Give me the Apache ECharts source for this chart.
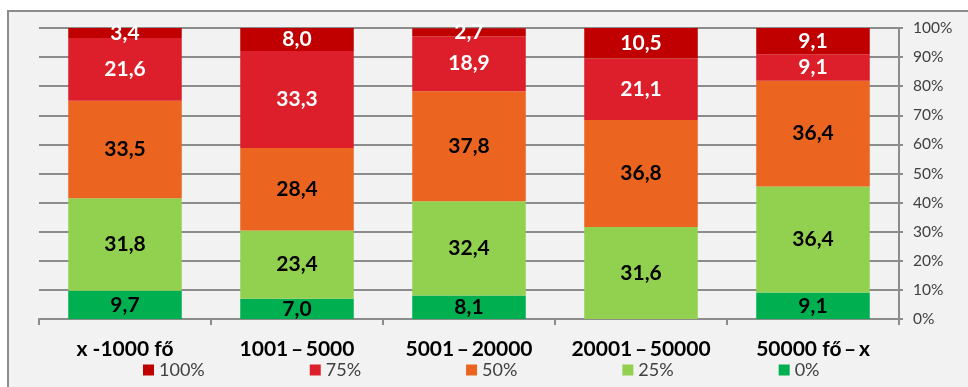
<!DOCTYPE html>
<html>
<head>
<meta charset="utf-8">
<script src="https://cdn.jsdelivr.net/npm/echarts@6/dist/echarts.min.js"></script>
<style>
  html, body { margin: 0; padding: 0; background: #ffffff; }
  #chart { width: 968px; height: 387px; }
</style>
</head>
<body>
<div id="chart"></div>
<script>
// Settlement size groups
const categories = ['x -1000 fő', '1001\u2009–\u20095000', '5001\u2009–\u200920000', '20001\u2009–\u200950000', '50000 fő\u2009–\u2009x'];

// Share of each level per group (%), bottom to top in the stack
const level0   = [9.7, 7.0, 8.1, 0, 9.1];
const level25  = [31.8, 23.4, 32.4, 31.6, 36.4];
const level50  = [33.5, 28.4, 37.8, 36.8, 36.4];
const level75  = [21.6, 33.3, 18.9, 21.1, 9.1];
const level100 = [3.4, 8.0, 2.7, 10.5, 9.1];

const seriesNames = ['0%', '25%', '50%', '75%', '100%'];
const legendOrder = ['100%', '75%', '50%', '25%', '0%'];
const yTicks = [0, 10, 20, 30, 40, 50, 60, 70, 80, 90, 100];

const seriesData = [level0, level25, level50, level75, level100];
const colors = ['#00b050', '#92d050', '#eb6420', '#dc1f2b', '#c00000'];
const labelColors = ['#000000', '#000000', '#000000', '#ffffff', '#ffffff'];

const chart = echarts.init(document.getElementById('chart'));

const FONT = 'Lato, "Open Sans", sans-serif';

chart.setOption({
  animation: false,
  backgroundColor: '#ffffff',
  graphic: [{
    type: 'rect',
    z: -10,
    shape: { x: 8, y: 11, width: 980, height: 400 },
    style: { fill: '#f2f2f2', stroke: '#8c8c8c', lineWidth: 2 }
  }],
  grid: { left: 39, right: 69, top: 28, bottom: 68 },
  legend: {
    data: legendOrder,
    left: 143,
    top: 361,
    padding: 0,
    itemWidth: 11,
    itemHeight: 11,
    itemGap: 105,
    icon: 'rect',
    textStyle: { fontFamily: FONT, fontSize: 18, lineHeight: 18, color: '#404040' }
  },
  xAxis: {
    type: 'category',
    data: categories,
    axisLine: { show: true, lineStyle: { color: '#8c8c8c', width: 2 } },
    axisTick: { show: true, length: 6, alignWithLabel: false, lineStyle: { color: '#8c8c8c', width: 2 } },
    axisLabel: { interval: 0, fontFamily: FONT, fontSize: 21, fontWeight: 'bold', color: '#000000', margin: 20 }
  },
  yAxis: {
    type: 'value',
    position: 'right',
    min: yTicks[0],
    max: yTicks[yTicks.length - 1],
    interval: 10,
    axisLine: { show: true, lineStyle: { color: '#8c8c8c', width: 2 } },
    axisTick: { show: true, length: 4, lineStyle: { color: '#8c8c8c', width: 2 } },
    axisLabel: { fontFamily: FONT, fontSize: 15.5, color: '#404040', margin: 14, formatter: '{value}%' },
    splitLine: { show: true, lineStyle: { color: '#8c8c8c', width: 2 } }
  },
  series: seriesData.map((d, i) => ({
    name: seriesNames[i],
    type: 'bar',
    stack: 'total',
    barWidth: '66%',
    data: d,
    itemStyle: { color: colors[i] },
    label: {
      show: true,
      position: 'inside',
      fontFamily: FONT,
      fontSize: 21,
      fontWeight: 'bold',
      color: labelColors[i],
      formatter: p => p.value ? p.value.toFixed(1).replace('.', ',') : ''
    }
  }))
});
</script>
</body>
</html>
